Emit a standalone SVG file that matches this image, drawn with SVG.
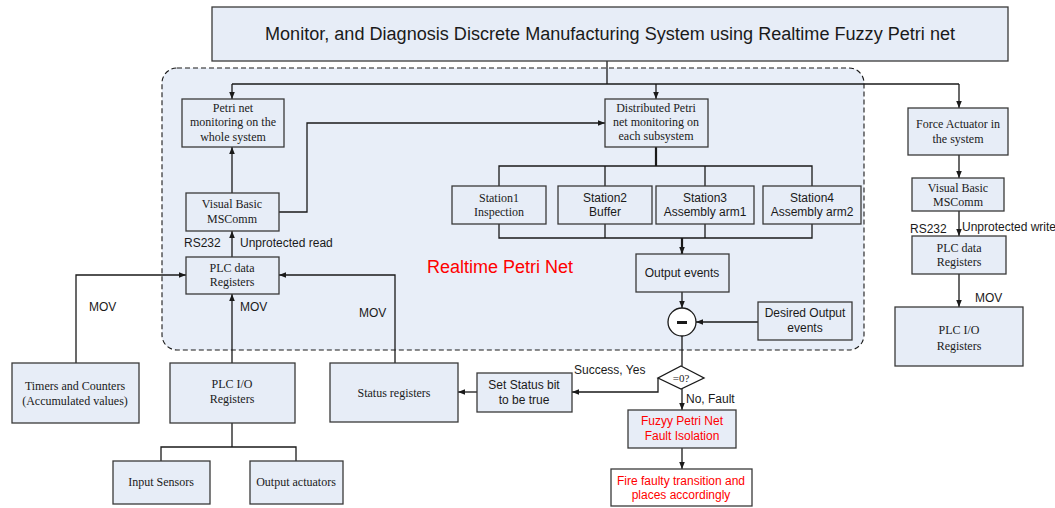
<svg xmlns="http://www.w3.org/2000/svg" width="1055" height="508" viewBox="0 0 1055 508">
  <style>
    .box { fill: #e7edf7; stroke: #3a3a3a; stroke-width: 1.3; }
    .white { fill: #ffffff; stroke: #3a3a3a; stroke-width: 1.3; }
    .serif { font-family: "Liberation Serif", "Times New Roman", serif; font-size: 12px; fill: #1a1a1a; text-anchor: middle; }
    .sans { font-family: "Liberation Sans", Arial, sans-serif; font-size: 12px; fill: #1a1a1a; text-anchor: middle; }
    .lbl { font-family: "Liberation Sans", Arial, sans-serif; font-size: 12px; fill: #1a1a1a; }
    .red { fill: #ff0000; }
    .wire { fill: none; stroke: #1a1a1a; stroke-width: 1.3; }
    .bus { fill: none; stroke: #1a1a1a; stroke-width: 2.2; }
  </style>
  <defs>
    <marker id="arr" viewBox="0 0 10 10" refX="10" refY="5" markerWidth="7" markerHeight="7" orient="auto" markerUnits="userSpaceOnUse">
      <path d="M0,1 L10,5 L0,9 Z" fill="#1a1a1a"/>
    </marker>
  </defs>

  <rect width="1055" height="508" fill="#ffffff"/>

  <!-- Realtime Petri Net region -->
  <g id="region">
    <rect x="162" y="68" width="702" height="282" rx="15" ry="15" fill="#e8eef8" stroke="#1a1a1a" stroke-width="1.1" stroke-dasharray="5,3"/>
    <text x="427" y="273" font-family="Liberation Sans, Arial, sans-serif" font-size="18" fill="#ff0000">Realtime Petri Net</text>
  </g>

  <!-- Connectors -->
  <g id="connectors">
    <path class="wire" d="M607,61 V84"/>
    <path class="wire" d="M232,84 H959"/>
    <path class="wire" d="M232,84 V99" marker-end="url(#arr)"/>
    <path class="wire" d="M656,84 V99" marker-end="url(#arr)"/>
    <path class="wire" d="M959,84 V108" marker-end="url(#arr)"/>

    <path class="wire" d="M232,193 V147" marker-end="url(#arr)"/>
    <path class="wire" d="M279,212 H307 V123 H605" marker-end="url(#arr)"/>
    <path class="wire" d="M232,257 V231" marker-end="url(#arr)"/>
    <path class="wire" d="M76,363 V275 H186" marker-end="url(#arr)"/>
    <path class="wire" d="M232,363 V294" marker-end="url(#arr)"/>
    <path class="wire" d="M395,363 V275 H279" marker-end="url(#arr)"/>

    <path class="bus" d="M656,147 V166"/>
    <path class="wire" d="M499,186 V166 H812 V186 M605,166 V186 M705,166 V186"/>
    <path class="wire" d="M499,224 V238 H812 V224 M605,224 V238 M705,224 V238"/>
    <path class="bus" d="M682,238 V254" marker-end="url(#arr)"/>
    <path class="wire" d="M682,292 V308" marker-end="url(#arr)"/>
    <path class="wire" d="M758,322 H696" marker-end="url(#arr)"/>
    <path class="wire" d="M682,336 V366"/>
    <path class="wire" d="M658,378 V392 H572" marker-end="url(#arr)"/>
    <path class="wire" d="M477,392 H458" marker-end="url(#arr)"/>
    <path class="wire" d="M682,389 V410" marker-end="url(#arr)"/>
    <path class="wire" d="M682,448 V469" marker-end="url(#arr)"/>

    <path class="wire" d="M232,422 V447 M161,461 V447 H296 V461"/>

    <path class="wire" d="M959,155 V178" marker-end="url(#arr)"/>
    <path class="wire" d="M959,211 V236" marker-end="url(#arr)"/>
    <path class="wire" d="M959,274 V307" marker-end="url(#arr)"/>

    <text class="lbl" x="184" y="247">RS232</text>
    <text class="lbl" x="240" y="247">Unprotected read</text>
    <text class="lbl" x="89" y="311">MOV</text>
    <text class="lbl" x="240" y="311">MOV</text>
    <text class="lbl" x="359" y="317">MOV</text>
    <text class="lbl" x="574" y="374">Success, Yes</text>
    <text class="lbl" x="686" y="403">No, Fault</text>
    <text class="lbl" x="910" y="233">RS232</text>
    <text class="lbl" x="962" y="231">Unprotected write</text>
    <text class="lbl" x="975" y="302">MOV</text>
  </g>

  <g id="title">
    <rect class="box" x="212" y="7" width="796" height="54"/>
    <text class="sans" x="610" y="40" style="font-size:18px" textLength="690" lengthAdjust="spacingAndGlyphs">Monitor, and Diagnosis Discrete Manufacturing System using Realtime Fuzzy Petri net</text>
  </g>

  <g id="petri-whole">
    <rect class="box" x="182" y="99" width="102" height="48"/>
    <text class="serif" x="233" y="112">Petri net</text>
    <text class="serif" x="233" y="126">monitoring on the</text>
    <text class="serif" x="233" y="141">whole system</text>
  </g>

  <g id="vb-left">
    <rect class="box" x="186" y="193" width="93" height="38"/>
    <text class="serif" x="232" y="208">Visual Basic</text>
    <text class="serif" x="232" y="223">MSComm</text>
  </g>

  <g id="plc-data-left">
    <rect class="box" x="186" y="257" width="93" height="37"/>
    <text class="serif" x="232" y="272">PLC data</text>
    <text class="serif" x="232" y="286">Registers</text>
  </g>

  <g id="distributed">
    <rect class="box" x="605" y="99" width="103" height="48"/>
    <text class="serif" x="656" y="112">Distributed Petri</text>
    <text class="serif" x="656" y="126">net monitoring on</text>
    <text class="serif" x="656" y="140">each subsystem</text>
  </g>

  <g id="station1">
    <rect class="box" x="452" y="186" width="94" height="38"/>
    <text class="serif" x="499" y="202">Station1</text>
    <text class="serif" x="499" y="216">Inspection</text>
  </g>
  <g id="station2">
    <rect class="box" x="558" y="186" width="94" height="38"/>
    <text class="sans" x="605" y="202">Station2</text>
    <text class="sans" x="605" y="216">Buffer</text>
  </g>
  <g id="station3">
    <rect class="box" x="656" y="186" width="98" height="38"/>
    <text class="sans" x="705" y="202">Station3</text>
    <text class="sans" x="705" y="216">Assembly arm1</text>
  </g>
  <g id="station4">
    <rect class="box" x="763" y="186" width="98" height="38"/>
    <text class="sans" x="812" y="202">Station4</text>
    <text class="sans" x="812" y="216">Assembly arm2</text>
  </g>

  <g id="output-events">
    <rect class="box" x="636" y="254" width="93" height="38"/>
    <text class="sans" x="682" y="277">Output events</text>
  </g>

  <g id="subtract">
    <circle cx="682" cy="322" r="14" fill="#ffffff" stroke="#1a1a1a" stroke-width="1.3"/>
    <rect x="677" y="321" width="10" height="3" fill="#1a1a1a"/>
  </g>

  <g id="desired-output">
    <rect class="box" x="758" y="302" width="94" height="38"/>
    <text class="sans" x="805" y="317">Desired Output</text>
    <text class="sans" x="805" y="332">events</text>
  </g>

  <g id="check-zero">
    <path d="M681,366 L704,378 L681,389 L658,378 Z" fill="#ffffff" stroke="#1a1a1a" stroke-width="1.3"/>
    <text class="serif" x="681" y="382" style="font-size:11px">=0?</text>
  </g>

  <g id="set-status">
    <rect class="box" x="477" y="373" width="95" height="39"/>
    <text class="sans" x="524" y="389">Set Status bit</text>
    <text class="sans" x="524" y="404">to be true</text>
  </g>

  <g id="fuzzy-isolation">
    <rect class="box" x="628" y="410" width="108" height="38"/>
    <text class="sans red" x="682" y="425">Fuzyy Petri Net</text>
    <text class="sans red" x="682" y="440">Fault Isolation</text>
  </g>

  <g id="fire-faulty">
    <rect class="white" x="611" y="469" width="141" height="37"/>
    <text class="sans red" x="681" y="485">Fire faulty transition and</text>
    <text class="sans red" x="681" y="499">places accordingly</text>
  </g>

  <g id="timers">
    <rect class="box" x="12" y="363" width="127" height="60"/>
    <text class="serif" x="75" y="390">Timers and Counters</text>
    <text class="serif" x="75" y="405">(Accumulated values)</text>
  </g>

  <g id="plc-io-left">
    <rect class="box" x="170" y="363" width="125" height="60"/>
    <text class="serif" x="232" y="388">PLC I/O</text>
    <text class="serif" x="232" y="403">Registers</text>
  </g>

  <g id="status-registers">
    <rect class="box" x="330" y="363" width="128" height="59"/>
    <text class="serif" x="394" y="397">Status registers</text>
  </g>

  <g id="input-sensors">
    <rect class="box" x="113" y="461" width="97" height="43"/>
    <text class="serif" x="161" y="486">Input Sensors</text>
  </g>

  <g id="output-actuators">
    <rect class="box" x="250" y="461" width="93" height="43"/>
    <text class="serif" x="296" y="486">Output actuators</text>
  </g>

  <g id="force-actuator">
    <rect class="box" x="908" y="108" width="100" height="47"/>
    <text class="serif" x="958" y="128">Force Actuator in</text>
    <text class="serif" x="958" y="143">the system</text>
  </g>

  <g id="vb-right">
    <rect class="box" x="912" y="178" width="92" height="33"/>
    <text class="serif" x="958" y="192">Visual Basic</text>
    <text class="serif" x="958" y="206">MSComm</text>
  </g>

  <g id="plc-data-right">
    <rect class="box" x="912" y="236" width="94" height="38"/>
    <text class="serif" x="959" y="252">PLC data</text>
    <text class="serif" x="959" y="266">Registers</text>
  </g>

  <g id="plc-io-right">
    <rect class="box" x="895" y="307" width="128" height="59"/>
    <text class="serif" x="959" y="334">PLC I/O</text>
    <text class="serif" x="959" y="350">Registers</text>
  </g>
</svg>
